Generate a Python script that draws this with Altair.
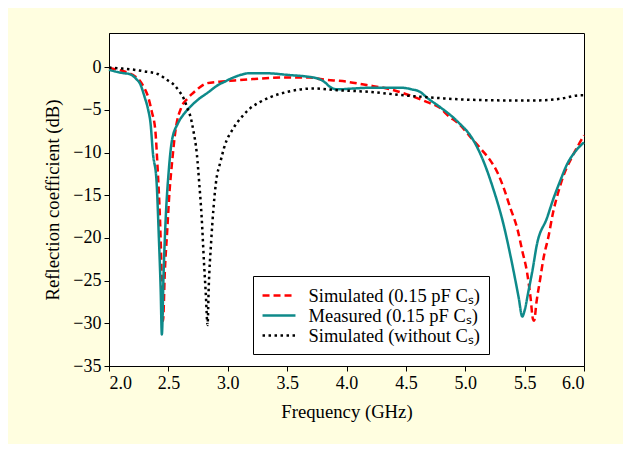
import altair as alt
import pandas as pd

# ---- data ----
sim_freq = [2.00, 2.10, 2.15, 2.20, 2.26, 2.30, 2.33, 2.36, 2.39, 2.41, 2.43, 2.445, 2.455,
            2.47, 2.49, 2.51, 2.53, 2.56, 2.61, 2.66, 2.71, 2.76, 2.82, 2.93, 3.02, 3.21,
            3.50, 3.69, 3.78, 4.00, 4.17, 4.34, 4.51, 4.68, 4.79, 4.85, 4.95, 5.07, 5.14,
            5.21, 5.27, 5.32, 5.38, 5.44, 5.48, 5.52, 5.55, 5.57, 5.58, 5.60, 5.63, 5.66,
            5.70, 5.74, 5.78, 5.83, 5.90, 6.00]
sim_db = [-0.1, -0.4, -0.6, -0.9, -1.6, -2.5, -3.5, -5.2, -7.4, -12.0, -18.0, -25.0, -29.7,
          -24.0, -19.2, -14.5, -11.3, -7.4, -4.7, -3.7, -3.0, -2.4, -1.9, -1.7, -1.6, -1.4,
          -1.2, -1.2, -1.4, -1.7, -2.1, -2.5, -3.2, -4.1, -4.8, -5.6, -6.7, -8.6, -9.7,
          -10.9, -12.3, -14.0, -16.5, -19.0, -21.5, -24.0, -27.0, -29.5, -29.7, -27.5, -24.9, -22.3,
          -19.9, -17.0, -14.8, -12.6, -10.5, -8.0]

meas_freq = [2.00, 2.05, 2.12, 2.17, 2.20, 2.23, 2.26, 2.30, 2.33, 2.35, 2.37, 2.40, 2.42,
             2.435, 2.445, 2.46, 2.48, 2.50, 2.53, 2.58, 2.63, 2.68, 2.75, 2.83, 2.93, 2.96,
             3.05, 3.19, 3.30, 3.50, 3.75, 3.82, 3.86, 3.92, 4.06, 4.22, 4.45, 4.55, 4.62,
             4.68, 4.79, 4.93, 5.07, 5.15, 5.23, 5.32, 5.40, 5.45, 5.48, 5.50, 5.53, 5.57,
             5.60, 5.69, 5.74, 5.80, 5.86, 5.92, 6.00]
meas_db = [-0.3, -0.5, -0.7, -0.8, -1.0, -1.4, -1.9, -3.5, -5.0, -6.6, -10.1, -13.3, -20.0,
           -26.0, -31.3, -24.0, -17.0, -12.7, -8.6, -6.6, -5.5, -4.7, -3.8, -3.0, -2.0, -1.8,
           -1.2, -0.7, -0.7, -0.9, -1.3, -1.8, -2.3, -2.6, -2.5, -2.4, -2.4, -2.6, -2.9,
           -3.6, -4.7, -6.3, -8.6, -10.9, -14.0, -18.3, -23.4, -27.0, -29.2, -28.5, -26.4, -23.5,
           -21.0, -17.6, -15.5, -13.3, -11.3, -10.0, -8.8]

nocs_freq = [2.00, 2.10, 2.21, 2.30, 2.41, 2.50, 2.55, 2.59, 2.63, 2.66, 2.69, 2.71, 2.74,
             2.76, 2.78, 2.80, 2.815, 2.83, 2.84, 2.86, 2.88, 2.90, 2.94, 2.97, 3.05, 3.12,
             3.19, 3.27, 3.36, 3.50, 3.72, 3.92, 4.20, 4.48, 4.76, 5.00, 5.40, 5.60, 5.80,
             5.97, 6.00]
nocs_db = [-0.05, -0.15, -0.3, -0.5, -0.8, -1.6, -2.1, -2.8, -3.7, -4.8, -6.0, -7.4, -10.2,
           -13.6, -17.5, -22.9, -26.5, -30.2, -25.7, -20.5, -16.5, -13.6, -11.0, -9.4, -7.1, -5.8,
           -4.8, -4.1, -3.5, -2.9, -2.5, -2.7, -2.9, -3.3, -3.6, -3.8, -3.9, -3.9, -3.7,
           -3.3, -3.3]

series_names = ["Simulated (0.15 pF C\u209b)", "Measured (0.15 pF C\u209b)", "Simulated (without C\u209b)"]
series_colors = ["#FF0000", "#0E8A8A", "#000000"]
series_dash = [[7, 4], [1, 0], [2.5, 3.5]]

x_ticks = [2.0, 2.5, 3.0, 3.5, 4.0, 4.5, 5.0, 5.5, 6.0]
y_ticks = [-35, -30, -25, -20, -15, -10, -5, 0]

frames = []
for order, (name, fx, fy) in enumerate(zip(series_names,
                                           [sim_freq, meas_freq, nocs_freq],
                                           [sim_db, meas_db, nocs_db])):
    frames.append(pd.DataFrame({"freq": fx, "db": fy, "series": name, "k": order}))
df = pd.concat(frames, ignore_index=True)

FONT = "Liberation Serif"

chart = alt.Chart(df).mark_line(strokeWidth=2.5, strokeCap="butt", interpolate="monotone").encode(
    x=alt.X("freq:Q", title="Frequency (GHz)",
            scale=alt.Scale(domain=[2.0, 6.0], nice=False, zero=False),
            axis=alt.Axis(values=x_ticks, format=".1f", grid=False)),
    y=alt.Y("db:Q", title="Reflection coefficient (dB)",
            scale=alt.Scale(domain=[-35, 4], nice=False, zero=False),
            axis=alt.Axis(values=y_ticks, grid=False,
                          labelExpr="datum.value < 0 ? '\u2212' + abs(datum.value) : '' + datum.value")),
    color=alt.Color("series:N", title=None,
                    scale=alt.Scale(domain=series_names, range=series_colors),
                    legend=alt.Legend(orient="none", legendX=144, legendY=243,
                                      symbolType="M-1.83,0H1.83", symbolSize=324,
                                      symbolStrokeWidth=2.5, strokeColor="black",
                                      fillColor="white", padding=9, labelOffset=19,
                                      symbolOffset=6.5,
                                      rowPadding=-1, labelFont=FONT, labelFontSize=18.5,
                                      labelColor="black", labelLimit=400,
                                      labelExpr="datum.label + '\u2002\u2009'")),
    strokeDash=alt.StrokeDash("series:N", title=None,
                              scale=alt.Scale(domain=series_names, range=series_dash)),
    order=alt.Order("k:Q"),
).properties(
    width=475, height=333,
    autosize=alt.AutoSizeParams(type="none"),
    padding={"left": 101, "top": 25, "right": 39, "bottom": 78},
).configure(
    background="#FFFEE0",
).configure_view(
    fill="white", stroke="black", strokeWidth=1,
).configure_axis(
    labelFont=FONT, labelFontSize=18, labelColor="black",
    titleFont=FONT, titleFontSize=18.7, titleFontWeight="normal", titleColor="black",
    domainColor="black", tickColor="black", tickSize=5, labelPadding=3,
).configure_axisX(
    titlePadding=10,
).configure_axisY(
    titlePadding=10,
)

chart.save("out.html", embed_options={"renderer": "svg", "actions": False})
